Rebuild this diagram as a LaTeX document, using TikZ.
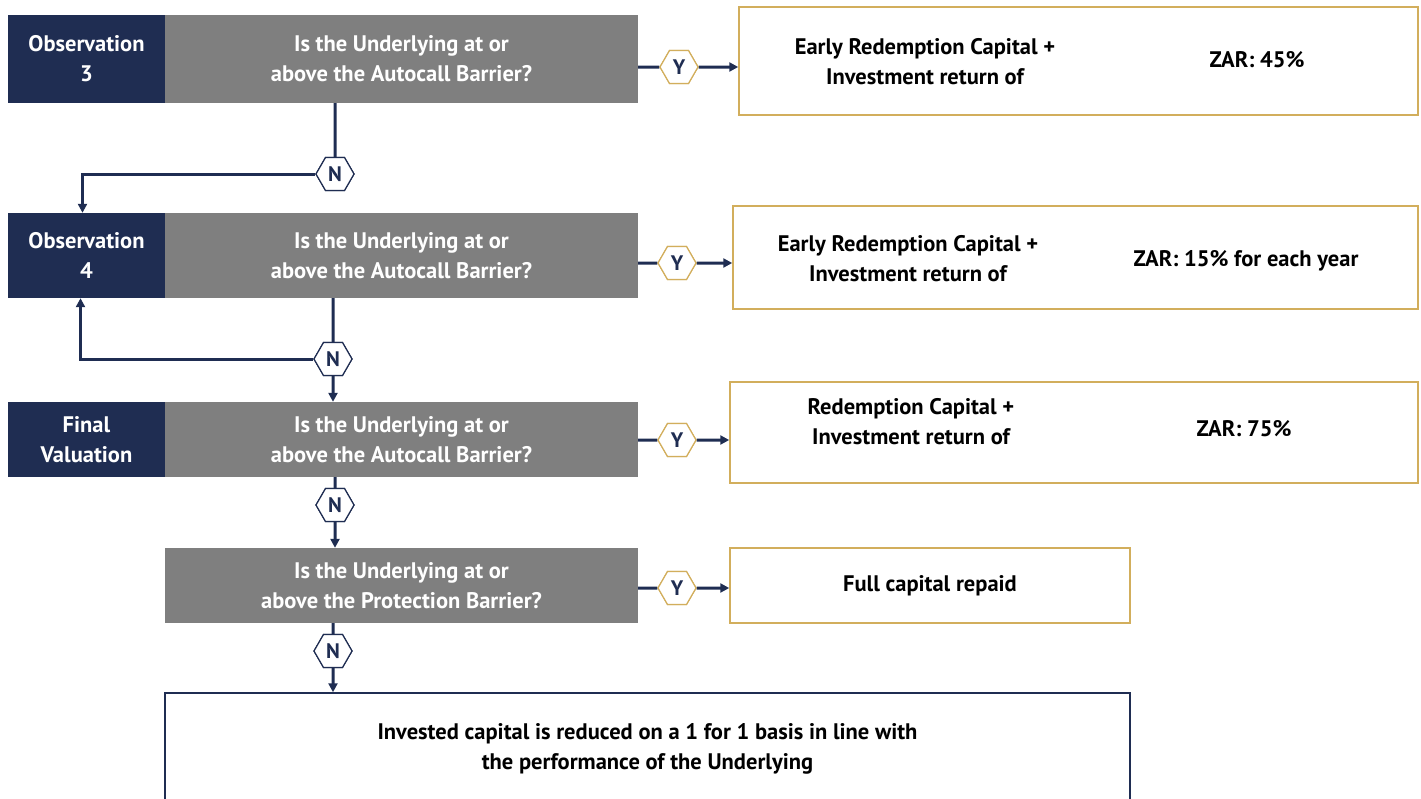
\documentclass[tikz,border=0pt]{standalone}
\usepackage{fontspec}
\setmainfont{PT Sans}
\usepackage{tikz}
\usetikzlibrary{arrows.meta,shapes.geometric}
\definecolor{navy}{HTML}{1F2D52}
\definecolor{slate}{HTML}{7F7F7F}
\definecolor{gold}{HTML}{D2AE5C}
\tikzset{
    obsbox/.style={fill=navy,text=white,font=\fontsize{22.5}{30}\selectfont\bfseries,align=center,minimum width=157pt,inner sep=0pt},
    askbox/.style={fill=slate,text=white,font=\fontsize{22.5}{30}\selectfont\bfseries,align=center,minimum width=473pt,inner sep=0pt},
    payoff/.style={draw=gold,line width=1.5pt,inner sep=0pt},
    paytext/.style={font=\fontsize{22.5}{30}\selectfont\bfseries,align=center},
    yeshex/.style={regular polygon,regular polygon sides=6,draw=gold,line width=1.2pt,fill=white,minimum size=38pt,inner sep=0pt,text=navy,font=\fontsize{21}{21}\selectfont\bfseries},
    nohex/.style={yeshex,draw=navy},
    flow/.style={draw=navy,line width=3pt},
    flowarr/.style={flow,-{Triangle[length=9pt,width=9pt]}}
}
\begin{document}
\begin{tikzpicture}[x=1pt,y=-1pt]
\useasboundingbox (0,0) rectangle (1421,798);
\clip (0,0) rectangle (1421,798);
% question rows
\node[obsbox,minimum height=88pt] (obsA) at (86.5,59) {Observation\\3};
\node[askbox,minimum height=88pt] (askA) at (401.5,59) {Is the Underlying at or\\above the Autocall Barrier?};
\node[obsbox,minimum height=85pt] (obsB) at (86.5,255.5) {Observation\\4};
\node[askbox,minimum height=85pt] (askB) at (401.5,255.5) {Is the Underlying at or\\above the Autocall Barrier?};
\node[obsbox,minimum height=75pt] (obsC) at (86.5,439.5) {Final\\Valuation};
\node[askbox,minimum height=75pt] (askC) at (401.5,439.5) {Is the Underlying at or\\above the Autocall Barrier?};
\node[askbox,minimum height=75pt] (askD) at (401.5,585.5) {Is the Underlying at or\\above the Protection Barrier?};
% payoff boxes
\node[payoff,minimum width=679pt,minimum height=108pt] (payA) at (1078.5,61) {};
\node[paytext] (payAl) at (925,62) {Early Redemption Capital +\\Investment return of};
\node[paytext] (payAr) at (1257,60) {ZAR: 45\%};
\node[payoff,minimum width=685pt,minimum height=103pt] (payB) at (1075.5,257.5) {};
\node[paytext] (payBl) at (908,259) {Early Redemption Capital +\\Investment return of};
\node[paytext] (payBr) at (1246,261) {ZAR: 15\% for each year};
\node[payoff,minimum width=688pt,minimum height=101pt] (payC) at (1074,432.5) {};
\node[paytext] (payCl) at (911,422) {Redemption Capital +\\Investment return of};
\node[paytext] (payCr) at (1244,429) {ZAR: 75\%};
\node[payoff,paytext,minimum width=400pt,minimum height=75pt] (payD) at (930,585.5) {Full capital repaid};
\node[draw=navy,line width=1.5pt,paytext,minimum width=965pt,minimum height=112pt] (loss) at (647.5,749) {Invested capital is reduced on a 1 for 1 basis in line with\\the performance of the Underlying};
% Y branches
\node[yeshex] (yesA) at (679,67) {Y};
\node[yeshex] (yesB) at (677,263) {Y};
\node[yeshex] (yesC) at (677,440) {Y};
\node[yeshex] (yesD) at (677,588) {Y};
\draw[flow] (askA.east |- yesA) -- (yesA);
\draw[flowarr] (yesA) -- (payA.west |- yesA);
\draw[flow] (askB.east |- yesB) -- (yesB);
\draw[flowarr] (yesB) -- (payB.west |- yesB);
\draw[flow] (askC.east |- yesC) -- (yesC);
\draw[flowarr] (yesC) -- (payC.west |- yesC);
\draw[flow] (askD.east |- yesD) -- (yesD);
\draw[flowarr] (yesD) -- (payD.west |- yesD);
% N branches
\node[nohex] (noA) at (335,174) {N};
\node[nohex] (noB) at (333,359) {N};
\node[nohex] (noC) at (335,505) {N};
\node[nohex] (noD) at (333,651) {N};
\draw[flow] (askA.south -| noA) -- (noA);
\draw[flowarr] (noA.west) -| ([xshift=-4pt]obsB.north);
\draw[flow] (askB.south -| noB) -- (noB);
\draw[flowarr] (noB.west) -| ([xshift=-6pt]obsB.south);
\draw[flowarr] (noB.south) -- (askC.north -| noB);
\draw[flow] (askC.south -| noC) -- (noC);
\draw[flowarr] (noC.south) -- (askD.north -| noC);
\draw[flow] (askD.south -| noD) -- (noD);
\draw[flowarr] (noD.south) -- (loss.north -| noD);
% redraw hexagons over the lines
\foreach \h/\t in {yesA/Y,yesB/Y,yesC/Y,yesD/Y}
  \node[yeshex] at (\h) {\t};
\foreach \h in {noA,noB,noC,noD}
  \node[nohex] at (\h) {N};
\end{tikzpicture}
\end{document}
